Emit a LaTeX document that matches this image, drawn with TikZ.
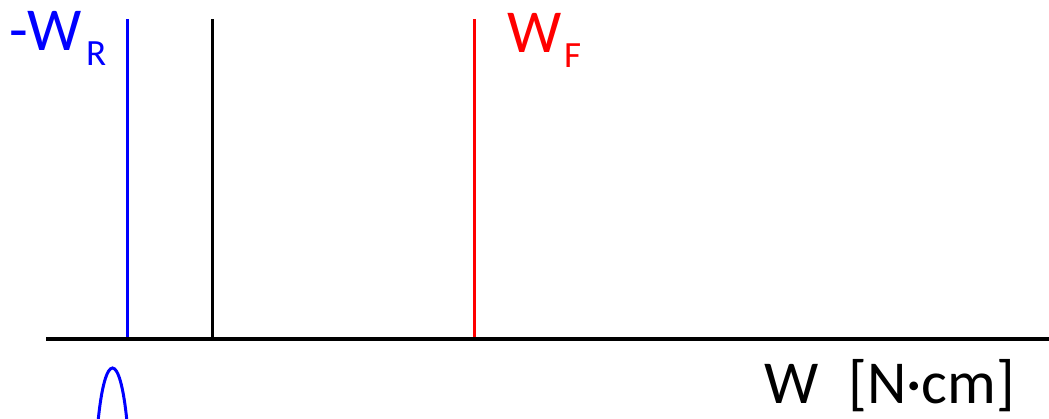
\documentclass[tikz,border=0pt]{standalone}
\usepackage{fontspec}
\setmainfont{Carlito}
\begin{document}
\begin{tikzpicture}[x=1pt,y=-1pt,
  vline/.style={line width=3pt},
  lbl/.style={inner sep=0pt,anchor=base west,font=\fontsize{61}{61}\selectfont},
  sub/.style={inner sep=0pt,anchor=base west,font=\fontsize{37}{37}\selectfont}]
\useasboundingbox (0,0) rectangle (1049,418);
\definecolor{pblue}{RGB}{0,0,255}
\definecolor{pred}{RGB}{255,0,0}
\coordinate (axL) at (46,339);
\coordinate (axR) at (1049,339);
\coordinate (bT) at (127,19);
\coordinate (bB) at (127,339);
\coordinate (kT) at (212,19);
\coordinate (kB) at (212,339);
\coordinate (rT) at (474,19);
\coordinate (rB) at (474,339);
\draw[vline,pblue] (bT) -- (bB);
\draw[vline,black] (kT) -- (kB);
\draw[vline,pred] (rT) -- (rB);
\draw[line width=3.5pt] (axL) -- (axR);
\coordinate (cL) at (98,422);
\coordinate (cR) at (127,422);
\draw[line width=3pt,pblue] (cL) .. controls (105,350) and (120,350) .. (cR);
\node[lbl,text=pblue] (wr) at (9,50) {-W};
\node[sub,text=pblue] (wrs) at (86,65) {R};
\node[lbl,text=pred] (wf) at (507,52) {W};
\node[sub,text=pred] (wfs) at (564,67) {F};
\node[lbl] (unit) at (764,403) {W\hspace{30pt}[N·cm]};
\end{tikzpicture}
\end{document}
